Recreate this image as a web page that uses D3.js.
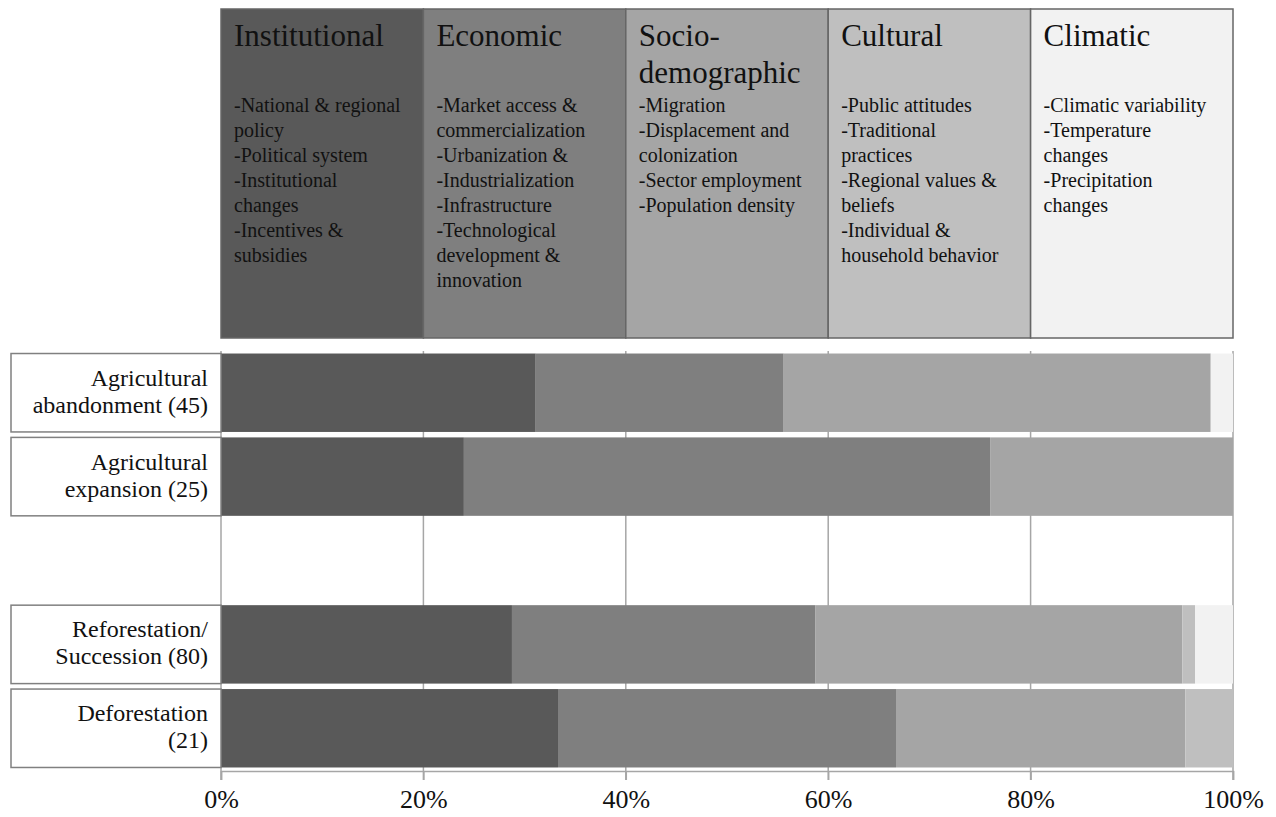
<!DOCTYPE html>
<html>
<head>
<meta charset="utf-8">
<script src="https://cdn.jsdelivr.net/npm/d3@7"></script>
<style>
  body { margin: 0; background: #fff; }
  text { font-family: "Liberation Serif", "Times New Roman", serif; fill: #111; }
</style>
</head>
<body>
<div id="chart"></div>
<script>
// Drivers (stack order) and their colours
var drivers = ["Institutional", "Economic", "Socio-demographic", "Cultural", "Climatic"];
var driverColors = ["#595959", "#7f7f7f", "#a5a5a5", "#bfbfbf", "#f2f2f2"];

// Header titles (split lines) and listed factors for each driver
var driverTitles = [["Institutional"], ["Economic"], ["Socio-", "demographic"], ["Cultural"], ["Climatic"]];
var driverFactors = [
    ["-National & regional", "policy", "-Political system", "-Institutional", "changes", "-Incentives &", "subsidies"],
    ["-Market access &", "commercialization", "-Urbanization &", "-Industrialization", "-Infrastructure", "-Technological", "development &", "innovation"],
    ["-Migration", "-Displacement and", "colonization", "-Sector employment", "-Population density"],
    ["-Public attitudes", "-Traditional", "practices", "-Regional values &", "beliefs", "-Individual &", "household behavior"],
    ["-Climatic variability", "-Temperature", "changes", "-Precipitation", "changes"]
];

// Land change categories (top to bottom, "gap" is the empty slot)
var categories = ["abandonment", "expansion", "gap", "reforestation", "deforestation"];
var categoryLabels = {
    abandonment: ["Agricultural", "abandonment (45)"],
    expansion: ["Agricultural", "expansion (25)"],
    reforestation: ["Reforestation/", "Succession (80)"],
    deforestation: ["Deforestation", "(21)"]
};

// Share of studies (%) per driver: Institutional, Economic, Socio, Cultural, Climatic
var abandonment = [31.1, 24.5, 42.2, 0, 2.2];
var expansion = [24, 52, 24, 0, 0];
var reforestation = [28.75, 30, 36.25, 1.25, 3.75];
var deforestation = [33.3, 33.4, 28.6, 4.7, 0];

var tickValues = [0, 20, 40, 60, 80, 100];

var series = { abandonment: abandonment, expansion: expansion, reforestation: reforestation, deforestation: deforestation };

var svg = d3.select("#chart").append("svg").attr("width", 1276).attr("height", 817);

var x = d3.scaleLinear().domain([0, 100]).range([221, 1233]);

var y = d3.scaleBand()
    .domain(categories)
    .range([351, 770])
    .paddingInner(0.065)
    .paddingOuter(0.03);

// Header boxes, one per 20% column
var header = svg.append("g").selectAll("g")
    .data(drivers)
    .enter().append("g");

header.append("rect")
    .attr("x", (d, i) => x(tickValues[i]))
    .attr("y", 9)
    .attr("width", (d, i) => x(tickValues[i + 1]) - x(tickValues[i]))
    .attr("height", 329)
    .attr("fill", (d, i) => driverColors[i])
    .attr("stroke", "#666")
    .attr("stroke-width", 1.5);

header.each(function (d, i) {
    var g = d3.select(this);
    var left = x(tickValues[i]) + 13;
    driverTitles[i].forEach(function (t, j) {
        g.append("text").attr("x", left).attr("y", 46 + j * 37)
            .style("font-size", "31px").text(t);
    });
    driverFactors[i].forEach(function (t, j) {
        g.append("text").attr("x", left).attr("y", 112 + j * 25)
            .style("font-size", "20px").text(t);
    });
});

// Grid lines and axis ticks
svg.append("g").selectAll("line")
    .data(tickValues)
    .enter().append("line")
    .attr("x1", d => x(d)).attr("x2", d => x(d))
    .attr("y1", 351).attr("y2", 780)
    .attr("stroke", "#a6a6a6")
    .attr("stroke-width", 1.5);

// Stacked bars
var rows = categories.filter(c => c !== "gap").map(function (c) {
    var row = { key: c };
    drivers.forEach((dr, i) => row[dr] = series[c][i]);
    return row;
});

var stacked = d3.stack().keys(drivers)(rows);

svg.append("g").selectAll("g")
    .data(stacked)
    .enter().append("g")
    .attr("fill", (d, i) => driverColors[i])
    .selectAll("rect")
    .data(d => d)
    .enter().append("rect")
    .attr("x", d => x(d[0]))
    .attr("y", d => y(d.data.key))
    .attr("width", d => x(d[1]) - x(d[0]))
    .attr("height", y.bandwidth());

// Bottom axis
var axis = svg.append("g")
    .attr("transform", "translate(0,771)")
    .call(d3.axisBottom(x).tickValues(tickValues).tickSize(9).tickPadding(10).tickFormat(d => d + "%"));

axis.select(".domain").attr("stroke", "#a6a6a6").attr("stroke-width", 1.5);
axis.selectAll(".tick line").attr("stroke", "#a6a6a6").attr("stroke-width", 1.5);
axis.selectAll(".tick text")
    .style("font-family", "'Liberation Serif', serif")
    .style("font-size", "26px")
    .attr("fill", "#111");

// Category label boxes on the left
var labels = svg.append("g").selectAll("g")
    .data(rows)
    .enter().append("g");

labels.append("rect")
    .attr("x", 11)
    .attr("y", d => y(d.key))
    .attr("width", 210)
    .attr("height", y.bandwidth())
    .attr("fill", "#fff")
    .attr("stroke", "#808080")
    .attr("stroke-width", 1.5);

labels.each(function (d) {
    var g = d3.select(this);
    var cy = y(d.key) + y.bandwidth() / 2;
    categoryLabels[d.key].forEach(function (t, j) {
        g.append("text")
            .attr("x", 208)
            .attr("y", cy - 7 + j * 27)
            .attr("text-anchor", "end")
            .style("font-size", "24px")
            .text(t);
    });
});
</script>
</body>
</html>
